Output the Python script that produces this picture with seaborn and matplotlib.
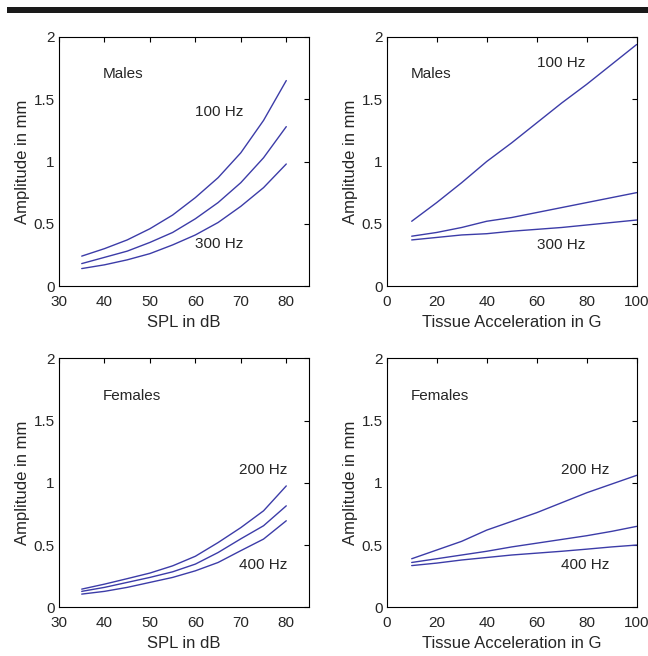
import matplotlib
matplotlib.use("Agg")
import matplotlib.pyplot as plt
from matplotlib.patches import Rectangle
import numpy as np
import pandas as pd
import seaborn as sns

# ---------------- data ----------------
spl_db = [35, 40, 45, 50, 55, 60, 65, 70, 75, 80]
male_spl_100hz = [0.24, 0.30, 0.37, 0.46, 0.57, 0.71, 0.87, 1.07, 1.33, 1.65]
male_spl_200hz = [0.18, 0.23, 0.28, 0.35, 0.43, 0.54, 0.67, 0.83, 1.03, 1.28]
male_spl_300hz = [0.14, 0.17, 0.21, 0.26, 0.33, 0.41, 0.51, 0.64, 0.79, 0.98]

female_spl_200hz = [0.146, 0.186, 0.23, 0.275, 0.333, 0.41, 0.52, 0.64, 0.775, 0.975]
female_spl_300hz = [0.128, 0.16, 0.20, 0.24, 0.285, 0.347, 0.44, 0.55, 0.655, 0.815]
female_spl_400hz = [0.106, 0.128, 0.16, 0.20, 0.24, 0.293, 0.36, 0.455, 0.548, 0.695]

accel_g = [10, 20, 30, 40, 50, 60, 70, 80, 90, 100]
male_acc_100hz = [0.52, 0.67, 0.83, 1.00, 1.15, 1.31, 1.47, 1.62, 1.78, 1.94]
male_acc_200hz = [0.40, 0.43, 0.47, 0.52, 0.55, 0.59, 0.63, 0.67, 0.71, 0.75]
male_acc_300hz = [0.37, 0.39, 0.41, 0.42, 0.44, 0.455, 0.47, 0.49, 0.51, 0.53]

female_acc_200hz = [0.39, 0.46, 0.53, 0.62, 0.69, 0.76, 0.84, 0.92, 0.99, 1.06]
female_acc_300hz = [0.36, 0.39, 0.42, 0.45, 0.485, 0.515, 0.545, 0.575, 0.61, 0.65]
female_acc_400hz = [0.335, 0.355, 0.38, 0.40, 0.42, 0.435, 0.45, 0.467, 0.485, 0.50]

y_ticks = [0, 0.5, 1, 1.5, 2]
y_ticklabels = ["0", "0.5", "1", "1.5", "2"]
spl_ticks = [30, 40, 50, 60, 70, 80]
acc_ticks = [0, 20, 40, 60, 80, 100]

# ---------------- style ----------------
sns.set_style("white")
plt.rcParams["font.family"] = ["Liberation Sans", "DejaVu Sans"]
TXT = "#262626"
LINE = "#3c3ca8"

fig = plt.figure(figsize=(6.48, 6.56), dpi=100)

W = 250 / 648
H = 249 / 656
lefts = [59 / 648, 386.7 / 648]
bottoms = [370 / 656, 48.7 / 656]

def make_df(x, series):
    frames = []
    for name, vals in series.items():
        frames.append(pd.DataFrame({"x": x, "y": vals, "s": name}))
    return pd.concat(frames, ignore_index=True)

panels = [
    dict(pos=(0, 0), x=spl_db,
         series={"100": male_spl_100hz, "200": male_spl_200hz, "300": male_spl_300hz},
         xlim=(30, 85), xticks=spl_ticks, xlabel="SPL in dB",
         texts=[("Males", 39.7, 1.70), ("100 Hz", 59.9, 1.40), ("300 Hz", 59.9, 0.34)]),
    dict(pos=(1, 0), x=accel_g,
         series={"100": male_acc_100hz, "200": male_acc_200hz, "300": male_acc_300hz},
         xlim=(0, 100), xticks=acc_ticks, xlabel="Tissue Acceleration in G",
         texts=[("Males", 9.6, 1.70), ("100 Hz", 60.2, 1.79), ("300 Hz", 60.2, 0.33)]),
    dict(pos=(0, 1), x=spl_db,
         series={"200": female_spl_200hz, "300": female_spl_300hz, "400": female_spl_400hz},
         xlim=(30, 85), xticks=spl_ticks, xlabel="SPL in dB",
         texts=[("Females", 39.7, 1.70), ("200 Hz", 69.6, 1.10), ("400 Hz", 69.6, 0.34)]),
    dict(pos=(1, 1), x=accel_g,
         series={"200": female_acc_200hz, "300": female_acc_300hz, "400": female_acc_400hz},
         xlim=(0, 100), xticks=acc_ticks, xlabel="Tissue Acceleration in G",
         texts=[("Females", 9.6, 1.70), ("200 Hz", 69.6, 1.10), ("400 Hz", 69.6, 0.34)]),
]

for p in panels:
    c, r = p["pos"]
    ax = fig.add_axes([lefts[c], bottoms[r], W, H])
    df = make_df(p["x"], p["series"])
    sns.lineplot(data=df, x="x", y="y", hue="s", palette=[LINE] * 3,
                 legend=False, ax=ax, linewidth=1.0, estimator=None, sort=False)
    ax.set_xlim(*p["xlim"])
    ax.set_ylim(0, 2)
    ax.set_xticks(p["xticks"])
    ax.set_yticks(y_ticks)
    ax.set_yticklabels(y_ticklabels)
    ax.tick_params(direction="in", length=3.5, width=0.8, top=True, right=True,
                   labelsize=11, colors="black", labelcolor=TXT)
    ax.tick_params(axis="x", pad=6.5)
    ax.tick_params(axis="y", pad=3)
    for sp in ax.spines.values():
        sp.set_visible(True)
        sp.set_color("black")
        sp.set_linewidth(0.8)
    ax.set_xlabel(p["xlabel"], fontsize=12, color=TXT, labelpad=4)
    ax.set_ylabel("Amplitude in mm", fontsize=12, color=TXT, labelpad=2.5)
    for t, tx, ty in p["texts"]:
        ax.text(tx, ty, t, fontsize=11, color=TXT, ha="left", va="center")

# top black bar
fig.add_artist(Rectangle((7.3 / 648, 1 - 12.7 / 656), 1 - 7.3 / 648, 6 / 656,
                         transform=fig.transFigure, facecolor="#1a1a1a",
                         edgecolor="none"))

fig.savefig("out.png", dpi=100)
